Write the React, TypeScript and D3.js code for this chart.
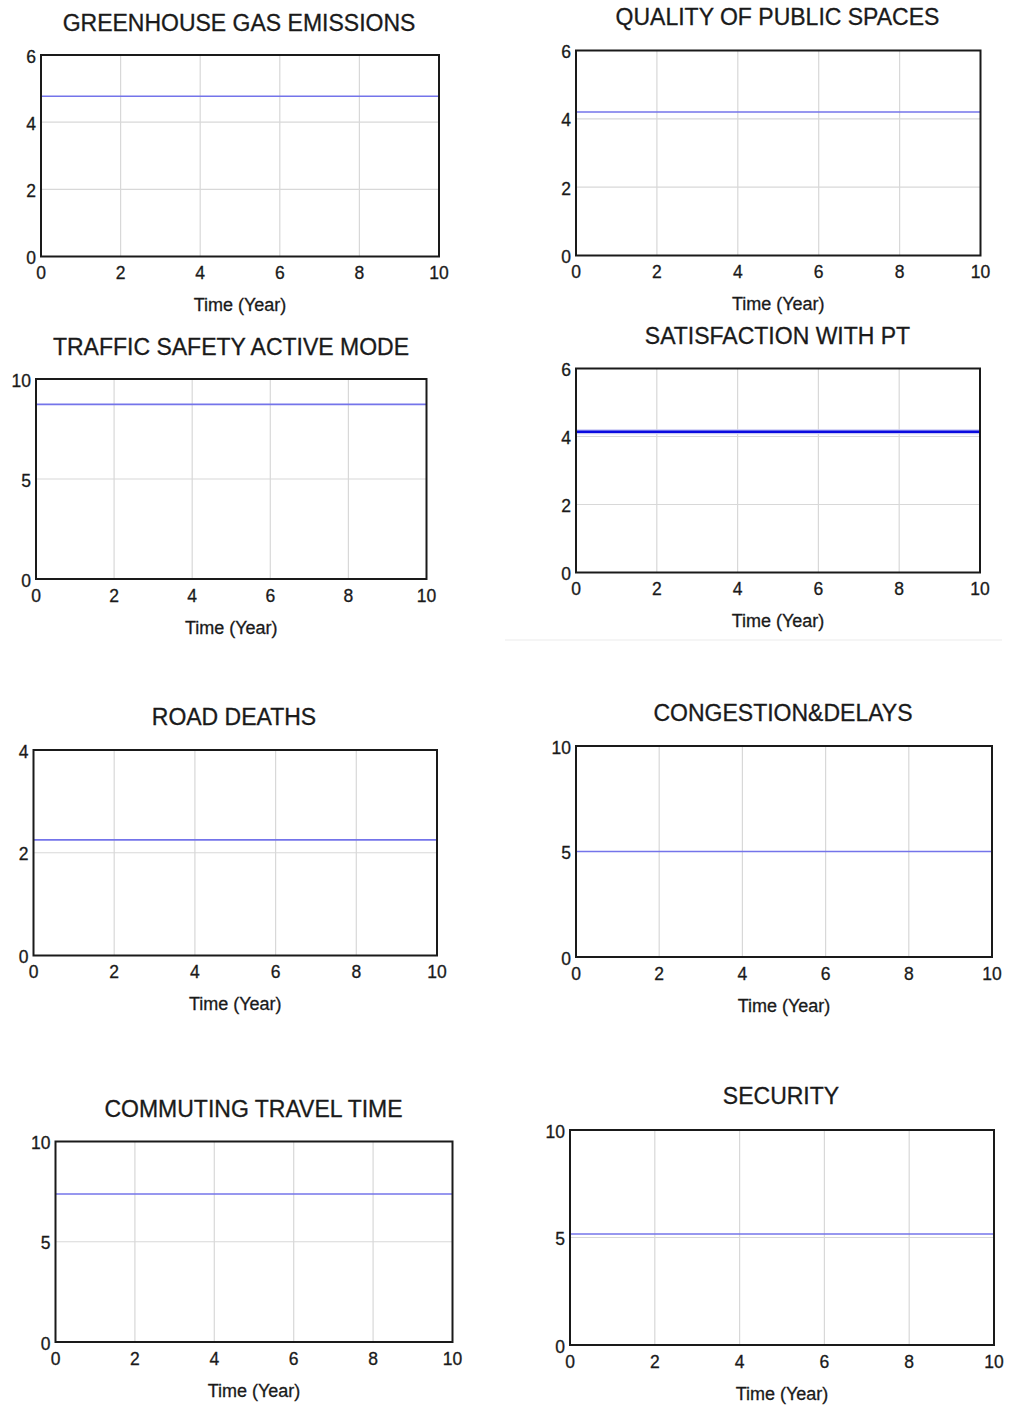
import React from "react";
import * as d3 from "d3";

// Simulation output: eight indicators over a ten-year horizon
const years = [0, 1, 2, 3, 4, 5, 6, 7, 8, 9, 10];
const xTicks = [0, 2, 4, 6, 8, 10];

const titles = [
  "GREENHOUSE GAS EMISSIONS",
  "QUALITY OF PUBLIC SPACES",
  "TRAFFIC SAFETY ACTIVE MODE",
  "SATISFACTION WITH PT",
  "ROAD DEATHS",
  "CONGESTION&DELAYS",
  "COMMUTING TRAVEL TIME",
  "SECURITY",
];

const yMaxes = [6, 6, 10, 6, 4, 10, 10, 10];

const yTickSets = [
  [0, 2, 4, 6],
  [0, 2, 4, 6],
  [0, 5, 10],
  [0, 2, 4, 6],
  [0, 2, 4],
  [0, 5, 10],
  [0, 5, 10],
  [0, 5, 10],
];

const greenhouseGas = [4.77, 4.77, 4.77, 4.77, 4.77, 4.77, 4.77, 4.77, 4.77, 4.77, 4.77];
const publicSpaces = [4.2, 4.2, 4.2, 4.2, 4.2, 4.2, 4.2, 4.2, 4.2, 4.2, 4.2];
const trafficSafety = [8.73, 8.73, 8.73, 8.73, 8.73, 8.73, 8.73, 8.73, 8.73, 8.73, 8.73];
const ptSatisfaction = [4.14, 4.14, 4.14, 4.14, 4.14, 4.14, 4.14, 4.14, 4.14, 4.14, 4.14];
const roadDeaths = [2.25, 2.25, 2.25, 2.25, 2.25, 2.25, 2.25, 2.25, 2.25, 2.25, 2.25];
const congestion = [5.0, 5.0, 5.0, 5.0, 5.0, 5.0, 5.0, 5.0, 5.0, 5.0, 5.0];
const commuting = [7.38, 7.38, 7.38, 7.38, 7.38, 7.38, 7.38, 7.38, 7.38, 7.38, 7.38];
const security = [5.16, 5.16, 5.16, 5.16, 5.16, 5.16, 5.16, 5.16, 5.16, 5.16, 5.16];

const seriesList = [
  greenhouseGas,
  publicSpaces,
  trafficSafety,
  ptSatisfaction,
  roadDeaths,
  congestion,
  commuting,
  security,
];

// Panel frames on the page
const frames = [
  { left: 41, top: 55, right: 439, bottom: 256.5, tx: 239, ty: 22.5 },
  { left: 576, top: 50.5, right: 980.5, bottom: 255.5, tx: 777.5, ty: 17 },
  { left: 36, top: 379, right: 426.5, bottom: 579, tx: 231, ty: 346.5 },
  { left: 576, top: 368.5, right: 980, bottom: 572.5, tx: 777.5, ty: 336 },
  { left: 33.5, top: 750, right: 437, bottom: 955.5, tx: 234, ty: 717 },
  { left: 576, top: 746, right: 992, bottom: 957, tx: 783, ty: 712.5 },
  { left: 55.5, top: 1141.5, right: 452.5, bottom: 1342, tx: 253.5, ty: 1108.5 },
  { left: 570, top: 1130, right: 994, bottom: 1345, tx: 781, ty: 1095.5 },
];

const FONT = "'Liberation Sans', Arial, sans-serif";
const TEXT = "#1a1a1a";
const GRID = "#d8d8d8";

const textStyle = {
  fontFamily: FONT,
  fill: TEXT,
  stroke: TEXT,
  strokeWidth: 0.3,
};

function Panel({ idx }: { idx: number }) {
  const f = frames[idx];
  const values = seriesList[idx];
  const x = d3.scaleLinear().domain([0, 10]).range([f.left, f.right]);
  const y = d3.scaleLinear().domain([0, yMaxes[idx]]).range([f.bottom, f.top]);
  const line = d3
    .line<number>()
    .x((_, i) => x(years[i]))
    .y((v) => y(v));
  const path = line(values) || "";
  const bold = idx === 3;
  const yt = yTickSets[idx];

  return (
    <g>
      <text
        x={f.tx}
        y={f.ty}
        textAnchor="middle"
        dominantBaseline="central"
        fontSize={23}
        style={textStyle}
      >
        {titles[idx]}
      </text>
      {/* grid */}
      {xTicks.slice(1, -1).map((t) => (
        <line key={"gx" + t} x1={x(t)} x2={x(t)} y1={f.top} y2={f.bottom} stroke={GRID} strokeWidth={1.2} />
      ))}
      {yt.slice(1, -1).map((t) => (
        <line key={"gy" + t} x1={f.left} x2={f.right} y1={y(t)} y2={y(t)} stroke={GRID} strokeWidth={1.2} />
      ))}
      {/* series */}
      {bold ? (
        <>
          <path d={path} fill="none" stroke="#c8c8f4" strokeWidth={5} />
          <path d={path} fill="none" stroke="#0a0ae0" strokeWidth={2.6} />
        </>
      ) : (
        <path d={path} fill="none" stroke="#7474ea" strokeWidth={1.6} />
      )}
      {/* frame */}
      <rect
        x={f.left}
        y={f.top}
        width={f.right - f.left}
        height={f.bottom - f.top}
        fill="none"
        stroke="#1a1a1a"
        strokeWidth={2}
      />
      {/* y tick labels */}
      {yt.map((t) => (
        <text
          key={"yl" + t}
          x={f.left - 5}
          y={y(t) + 1.5}
          textAnchor="end"
          dominantBaseline="central"
          fontSize={17.5}
          style={textStyle}
        >
          {t}
        </text>
      ))}
      {/* x tick labels */}
      {xTicks.map((t) => (
        <text
          key={"xl" + t}
          x={x(t)}
          y={f.bottom + 16.5}
          textAnchor="middle"
          dominantBaseline="central"
          fontSize={17.5}
          style={textStyle}
        >
          {t}
        </text>
      ))}
      <text
        x={(f.left + f.right) / 2}
        y={f.bottom + 48.5}
        textAnchor="middle"
        dominantBaseline="central"
        fontSize={18}
        style={textStyle}
      >
        Time (Year)
      </text>
    </g>
  );
}

export default function App() {
  return (
    <svg
      width={1016}
      height={1410}
      viewBox="0 0 1016 1410"
      style={{ position: "absolute", left: 0, top: 0, background: "#ffffff" }}
    >
      <rect x={0} y={0} width={1016} height={1410} fill="#ffffff" />
      <line x1={505} x2={1002} y1={640} y2={640} stroke="#ececec" strokeWidth={1.2} />
      {titles.map((_, i) => (
        <Panel key={i} idx={i} />
      ))}
    </svg>
  );
}
